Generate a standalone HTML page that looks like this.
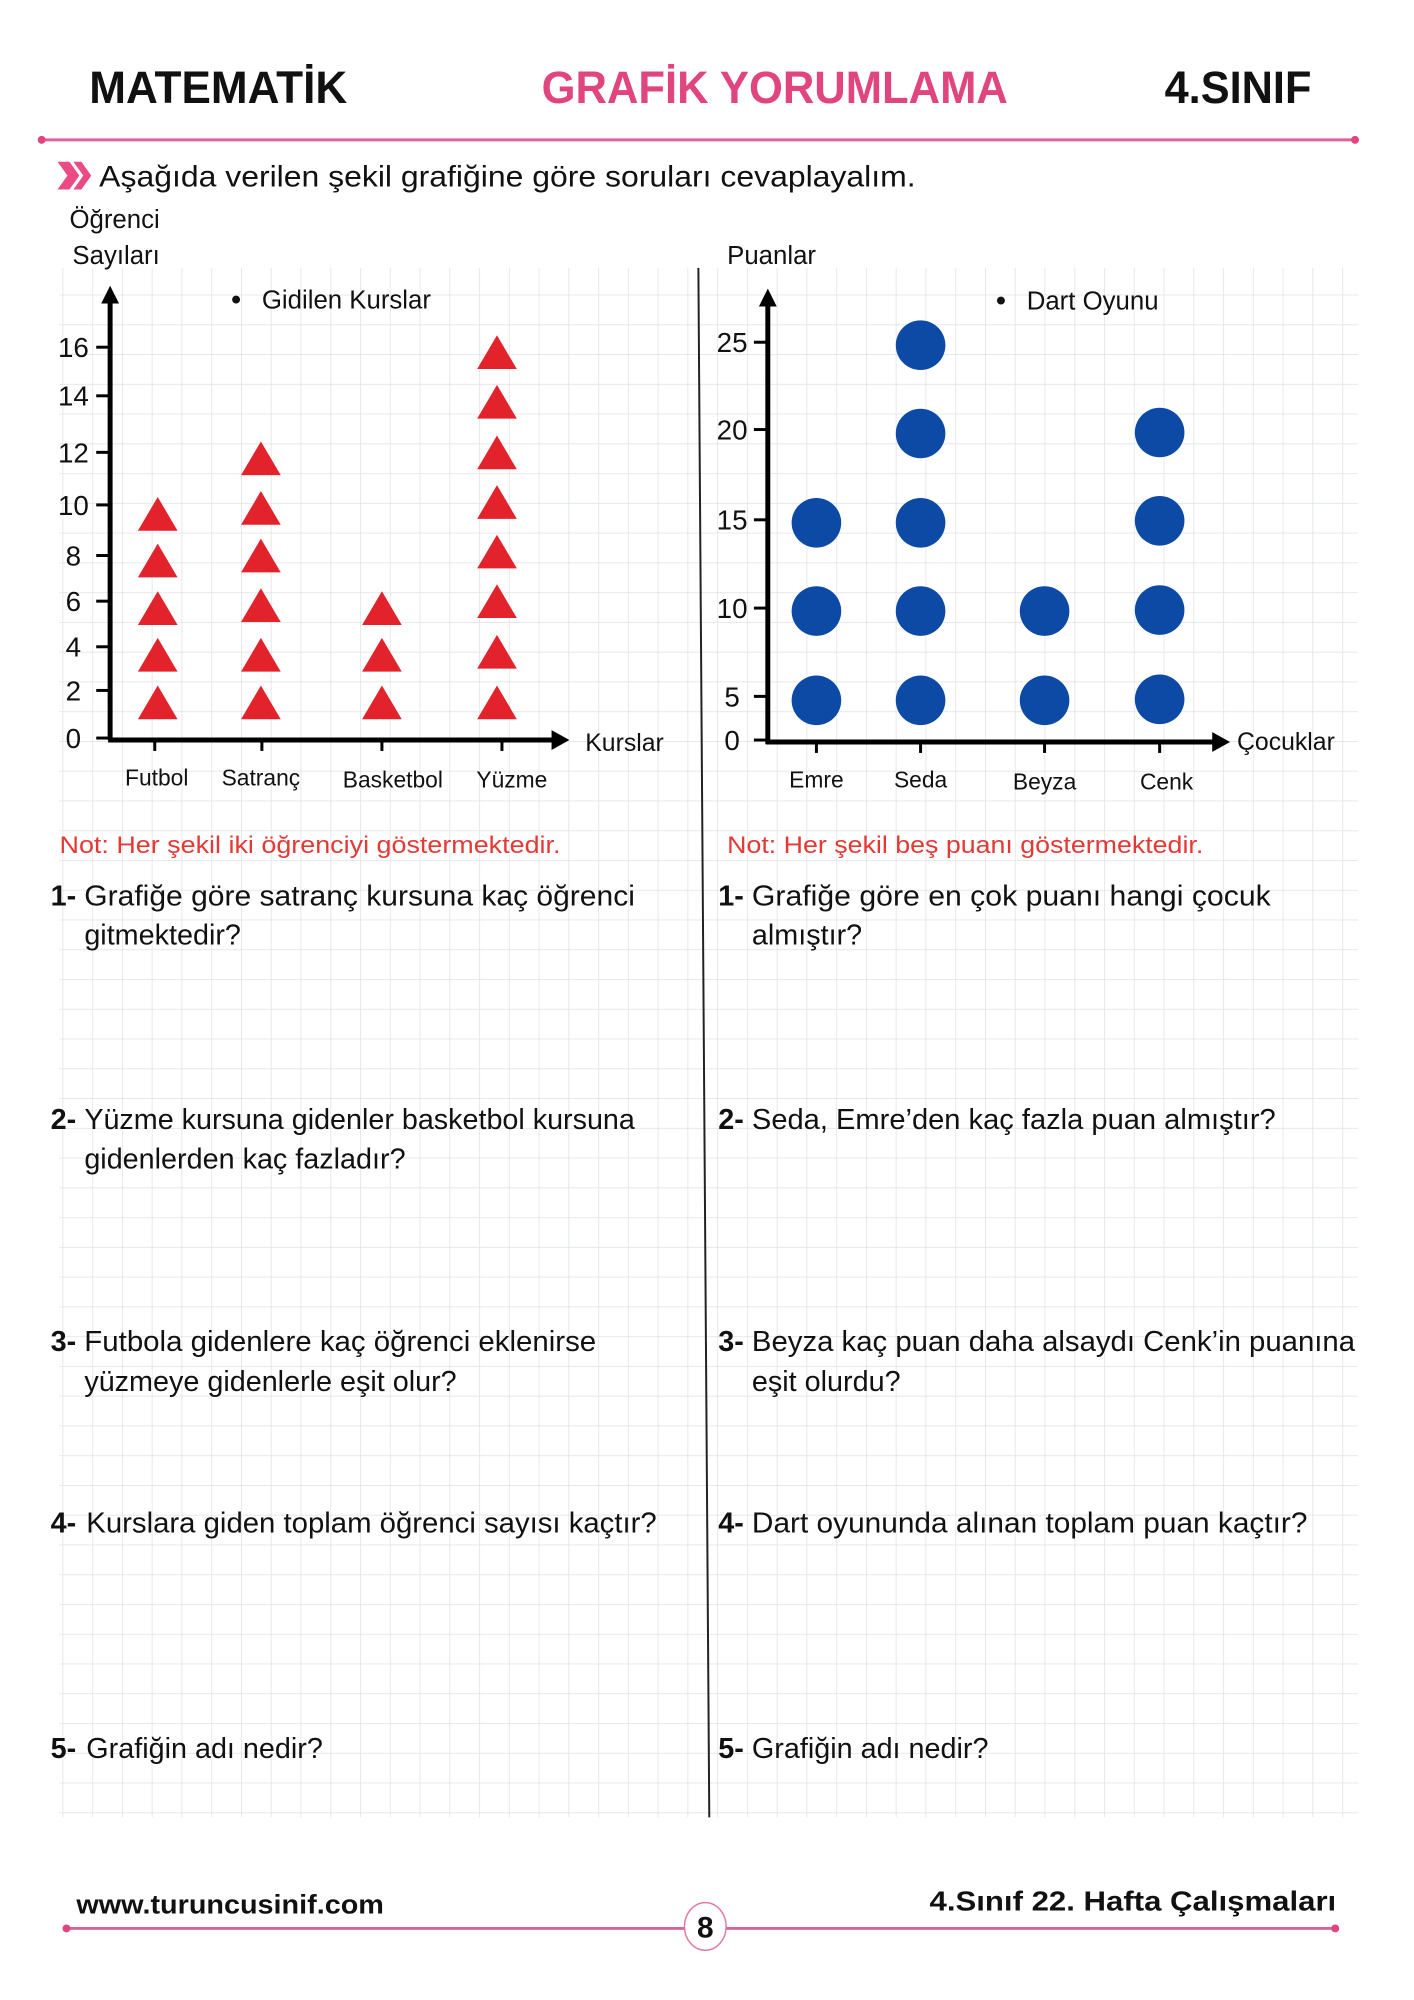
<!DOCTYPE html>
<html><head><meta charset="utf-8"><style>
html,body{margin:0;padding:0;background:#fff}
svg{display:block}
text{font-family:"Liberation Sans",sans-serif}
</style></head><body>
<svg width="1414" height="2000" viewBox="0 0 1414 2000" xmlns="http://www.w3.org/2000/svg">
<defs>
<pattern id="g" x="63" y="267" width="30" height="30" patternUnits="userSpaceOnUse">
<path d="M0 0H30M0 0V30" stroke="#dde2e5" stroke-width="1.5" fill="none"/>
</pattern>
<polygon id="tri" points="0,-34 20,0 -20,0" fill="#e3232b"/>
</defs>
<g transform="scale(0.992)">
<rect x="60" y="270" width="1309" height="1562" fill="url(#g)"/>

<text x="90" y="104" font-size="46" font-weight="bold" fill="#111" textLength="260" lengthAdjust="spacingAndGlyphs">MATEMATİK</text>
<text x="546" y="104" font-size="46" font-weight="bold" fill="#e0457f" textLength="470" lengthAdjust="spacingAndGlyphs">GRAFİK YORUMLAMA</text>
<text x="1174" y="104" font-size="46" font-weight="bold" fill="#111" textLength="148" lengthAdjust="spacingAndGlyphs">4.SINIF</text>
<line x1="42" y1="141" x2="1366" y2="141" stroke="#e0629a" stroke-width="3"/>
<circle cx="42" cy="141" r="4" fill="#e0457f"/><circle cx="1366" cy="141" r="4" fill="#e0457f"/>

<path d="M58 163 L70 163 L80 177 L70 191 L58 191 L68 177Z" fill="#ec4a82"/>
<path d="M74 163 L82 163 L92 177 L82 191 L74 191 L84 177Z" fill="#ec4a82"/>
<text x="100" y="188" font-size="30" fill="#111" textLength="823" lengthAdjust="spacingAndGlyphs">Aşağıda verilen şekil grafiğine göre soruları cevaplayalım.</text>

<line x1="704" y1="270" x2="715" y2="1832" stroke="#222" stroke-width="2"/>

<text x="70" y="230" font-size="26" fill="#111">Öğrenci</text>
<text x="73" y="266" font-size="26" fill="#111">Sayıları</text>
<line x1="111" y1="300" x2="111" y2="746" stroke="#000" stroke-width="5"/>
<polygon points="111,288 102,306 120,306" fill="#000"/>
<line x1="109" y1="746" x2="560" y2="746" stroke="#000" stroke-width="5"/>
<polygon points="574,746 556,736 556,756" fill="#000"/>
<g stroke="#000" stroke-width="3">
<line x1="97" y1="744" x2="111" y2="744"/><line x1="97" y1="696" x2="111" y2="696"/><line x1="97" y1="652" x2="111" y2="652"/><line x1="97" y1="606" x2="111" y2="606"/><line x1="97" y1="560" x2="111" y2="560"/><line x1="97" y1="509" x2="111" y2="509"/><line x1="97" y1="456" x2="111" y2="456"/><line x1="97" y1="399" x2="111" y2="399"/><line x1="97" y1="350" x2="111" y2="350"/>
<line x1="156" y1="746" x2="156" y2="757"/><line x1="264" y1="746" x2="264" y2="757"/><line x1="385" y1="746" x2="385" y2="757"/><line x1="506" y1="746" x2="506" y2="757"/>
</g>
<g font-size="28" fill="#111" text-anchor="middle">
<text x="74" y="754">0</text><text x="74" y="706">2</text><text x="74" y="662">4</text><text x="74" y="616">6</text><text x="74" y="570">8</text><text x="74" y="519">10</text><text x="74" y="466">12</text><text x="74" y="409">14</text><text x="74" y="360">16</text>
</g>
<circle cx="238" cy="302" r="4" fill="#111"/>
<text x="264" y="311" font-size="26" fill="#111">Gidilen Kurslar</text>
<g>
<use href="#tri" x="159" y="725"/><use href="#tri" x="159" y="677"/><use href="#tri" x="159" y="630"/><use href="#tri" x="159" y="582"/><use href="#tri" x="159" y="535"/>
<use href="#tri" x="263" y="725"/><use href="#tri" x="263" y="677"/><use href="#tri" x="263" y="627"/><use href="#tri" x="263" y="577"/><use href="#tri" x="263" y="529"/><use href="#tri" x="263" y="479"/>
<use href="#tri" x="385" y="725"/><use href="#tri" x="385" y="677"/><use href="#tri" x="385" y="630"/>
<use href="#tri" x="501" y="725"/><use href="#tri" x="501" y="674"/><use href="#tri" x="501" y="623"/><use href="#tri" x="501" y="573"/><use href="#tri" x="501" y="523"/><use href="#tri" x="501" y="473"/><use href="#tri" x="501" y="422"/><use href="#tri" x="501" y="372"/>
</g>
<g font-size="23" fill="#111" text-anchor="middle">
<text x="158" y="792">Futbol</text><text x="263" y="792">Satranç</text><text x="396" y="794">Basketbol</text><text x="516" y="794">Yüzme</text>
</g>
<text x="590" y="757" font-size="25" fill="#111">Kurslar</text>
<text x="60" y="860" font-size="24" fill="#e53935" textLength="505" lengthAdjust="spacingAndGlyphs">Not: Her şekil iki öğrenciyi göstermektedir.</text>

<text x="733" y="266" font-size="26" fill="#111">Puanlar</text>
<line x1="774" y1="305" x2="774" y2="750" stroke="#000" stroke-width="5"/>
<polygon points="774,291 765,309 783,309" fill="#000"/>
<line x1="772" y1="748" x2="1225" y2="748" stroke="#000" stroke-width="5"/>
<polygon points="1240,748 1222,738 1222,758" fill="#000"/>
<g stroke="#000" stroke-width="3">
<line x1="760" y1="746" x2="774" y2="746"/><line x1="760" y1="702" x2="774" y2="702"/><line x1="760" y1="613" x2="774" y2="613"/><line x1="760" y1="524" x2="774" y2="524"/><line x1="760" y1="433" x2="774" y2="433"/><line x1="760" y1="345" x2="774" y2="345"/>
<line x1="823" y1="748" x2="823" y2="759"/><line x1="928" y1="748" x2="928" y2="759"/><line x1="1053" y1="748" x2="1053" y2="759"/><line x1="1169" y1="748" x2="1169" y2="759"/>
</g>
<g font-size="28" fill="#111" text-anchor="middle">
<text x="738" y="756">0</text><text x="738" y="712">5</text><text x="738" y="623">10</text><text x="738" y="534">15</text><text x="738" y="443">20</text><text x="738" y="355">25</text>
</g>
<circle cx="1009" cy="303" r="4" fill="#111"/>
<text x="1035" y="312" font-size="26" fill="#111">Dart Oyunu</text>
<g fill="#0c4aa6">
<circle cx="823" cy="706" r="25"/><circle cx="823" cy="616" r="25"/><circle cx="823" cy="527" r="25"/>
<circle cx="928" cy="706" r="25"/><circle cx="928" cy="616" r="25"/><circle cx="928" cy="527" r="25"/><circle cx="928" cy="437" r="25"/><circle cx="928" cy="348" r="25"/>
<circle cx="1053" cy="706" r="25"/><circle cx="1053" cy="616" r="25"/>
<circle cx="1169" cy="705" r="25"/><circle cx="1169" cy="615" r="25"/><circle cx="1169" cy="525" r="25"/><circle cx="1169" cy="436" r="25"/>
</g>
<g font-size="23" fill="#111" text-anchor="middle">
<text x="823" y="794">Emre</text><text x="928" y="794">Seda</text><text x="1053" y="796">Beyza</text><text x="1176" y="796">Cenk</text>
</g>
<text x="1247" y="756" font-size="25" fill="#111">Çocuklar</text>
<text x="733" y="860" font-size="24" fill="#e53935" textLength="480" lengthAdjust="spacingAndGlyphs">Not: Her şekil beş puanı göstermektedir.</text>

<g font-size="29" fill="#111">
<text x="51" y="913"><tspan font-weight="bold">1-</tspan></text><text x="85" y="913" textLength="555" lengthAdjust="spacingAndGlyphs">Grafiğe göre satranç kursuna kaç öğrenci</text>
<text x="85" y="952">gitmektedir?</text>
<text x="51" y="1138"><tspan font-weight="bold">2-</tspan></text><text x="85" y="1138" textLength="555" lengthAdjust="spacingAndGlyphs">Yüzme kursuna gidenler basketbol kursuna</text>
<text x="85" y="1178">gidenlerden kaç fazladır?</text>
<text x="51" y="1362"><tspan font-weight="bold">3-</tspan></text><text x="85" y="1362" textLength="516" lengthAdjust="spacingAndGlyphs">Futbola gidenlere kaç öğrenci eklenirse</text>
<text x="85" y="1402">yüzmeye gidenlerle eşit olur?</text>
<text x="51" y="1545"><tspan font-weight="bold">4-</tspan></text><text x="87" y="1545" textLength="575" lengthAdjust="spacingAndGlyphs">Kurslara giden toplam öğrenci sayısı kaçtır?</text>
<text x="51" y="1772"><tspan font-weight="bold">5-</tspan></text><text x="87" y="1772">Grafiğin adı nedir?</text>
</g>
<g font-size="29" fill="#111">
<text x="724" y="913"><tspan font-weight="bold">1-</tspan></text><text x="758" y="913" textLength="523" lengthAdjust="spacingAndGlyphs">Grafiğe göre en çok puanı hangi çocuk</text>
<text x="758" y="952">almıştır?</text>
<text x="724" y="1138"><tspan font-weight="bold">2-</tspan></text><text x="758" y="1138" textLength="528" lengthAdjust="spacingAndGlyphs">Seda, Emre’den kaç fazla puan almıştır?</text>
<text x="724" y="1362"><tspan font-weight="bold">3-</tspan></text><text x="758" y="1362" textLength="608" lengthAdjust="spacingAndGlyphs">Beyza kaç puan daha alsaydı Cenk’in puanına</text>
<text x="758" y="1402">eşit olurdu?</text>
<text x="724" y="1545"><tspan font-weight="bold">4-</tspan></text><text x="758" y="1545" textLength="560" lengthAdjust="spacingAndGlyphs">Dart oyununda alınan toplam puan kaçtır?</text>
<text x="724" y="1772"><tspan font-weight="bold">5-</tspan></text><text x="758" y="1772">Grafiğin adı nedir?</text>
</g>

<text x="77" y="1929" font-size="27" font-weight="bold" fill="#111" textLength="310" lengthAdjust="spacingAndGlyphs">www.turuncusinif.com</text>
<text x="937" y="1926" font-size="28" font-weight="bold" fill="#111" textLength="410" lengthAdjust="spacingAndGlyphs">4.Sınıf 22. Hafta Çalışmaları</text>
<line x1="67" y1="1944" x2="1346" y2="1944" stroke="#d9669a" stroke-width="3"/>
<circle cx="67" cy="1944" r="4" fill="#e0457f"/><circle cx="1346" cy="1944" r="4" fill="#e0457f"/>
<ellipse cx="711" cy="1942" rx="21" ry="24" fill="#fff" stroke="#e07aa4" stroke-width="1.5"/>
<text x="711" y="1953" font-size="30" font-weight="bold" fill="#111" text-anchor="middle">8</text>
</g>
</svg>
</body></html>
